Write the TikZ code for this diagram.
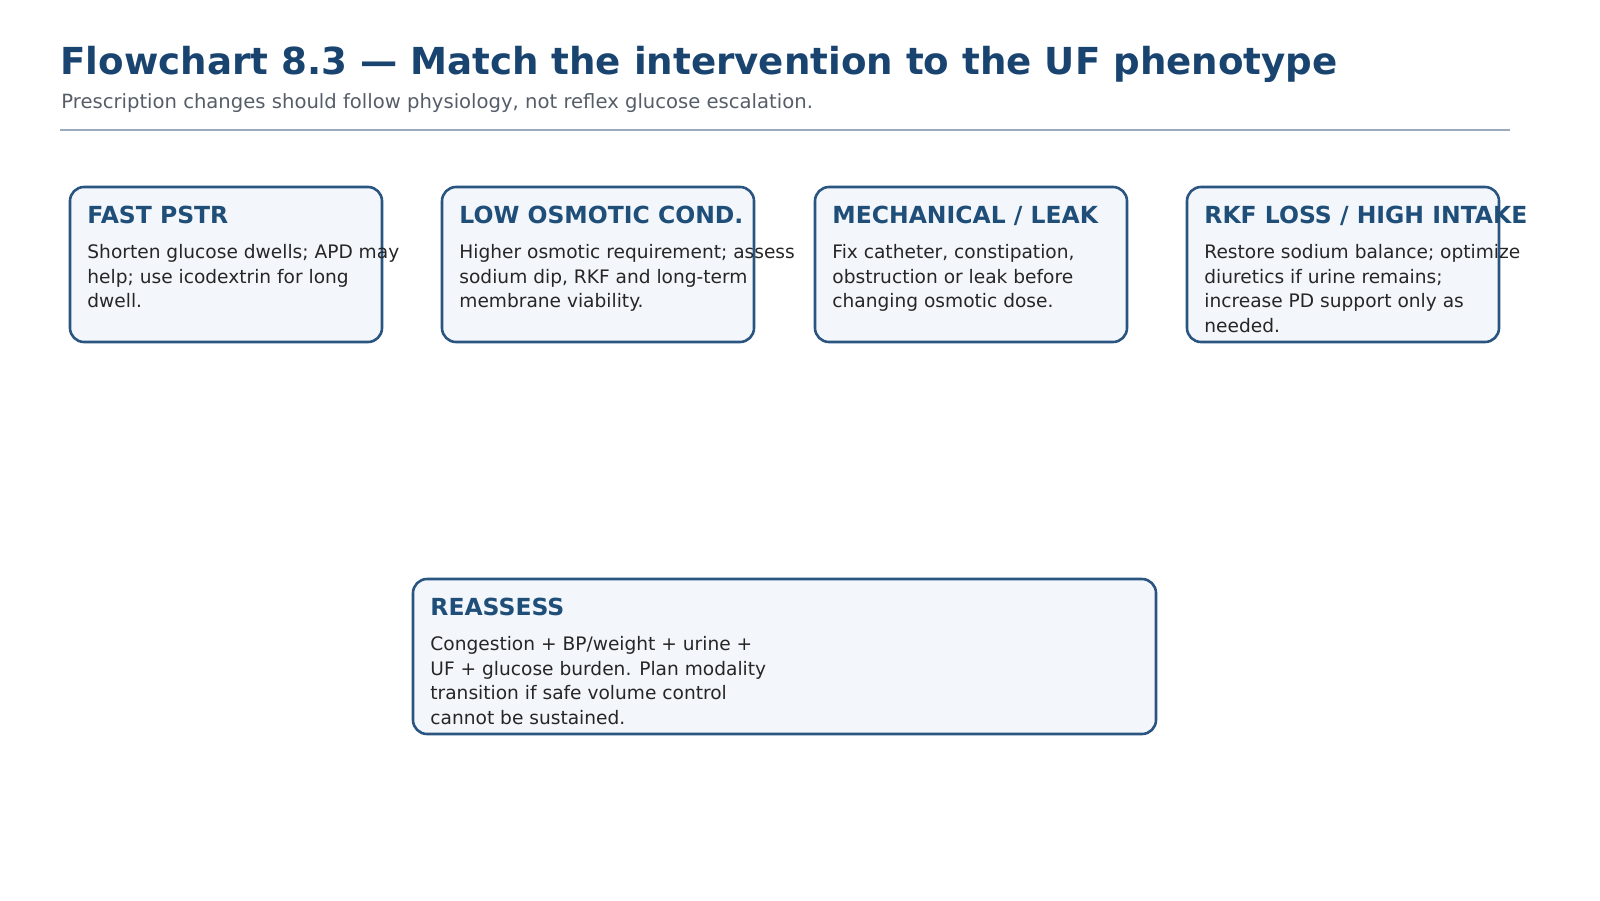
\documentclass[tikz,border=0pt]{standalone}
\usepackage{fontspec}
\setmainfont{DejaVu Sans}
\usetikzlibrary{positioning}
\definecolor{titleblue}{HTML}{1A4470}
\definecolor{boxline}{HTML}{2A5580}
\definecolor{boxfill}{HTML}{F3F7FB}
\definecolor{headblue}{HTML}{1F4E79}
\definecolor{subgray}{HTML}{555E68}
\definecolor{rulegray}{HTML}{9AABBD}
\tikzset{
  card/.style={draw=boxline, line width=1.3pt, fill=boxfill, rounded corners=7pt},
  head/.style={anchor=base west, inner sep=0pt, text=headblue, font=\fontsize{11.75}{14}\selectfont\bfseries},
  body/.style={anchor=north west, inner sep=0pt, align=left, text=black!85,
    font=\fontsize{9.3}{12.3}\selectfont},
}
\begin{document}
\begin{tikzpicture}[x=0.5pt,y=-0.5pt]
\useasboundingbox (0,0) rectangle (1600,900);

\node [anchor=base west, inner sep=0pt, text=titleblue, font=\fontsize{18.6}{22}\selectfont\bfseries]
  (title) at (60,74) {Flowchart 8.3 — Match the intervention to the UF phenotype};
\node [anchor=base west, inner sep=0pt, text=subgray, font=\fontsize{9.8}{12}\selectfont]
  (subtitle) at (61,108) {Prescription changes should follow physiology, not reflex glucose escalation.};
\draw [rulegray, line width=0.8pt] (60,130) -- (1510,130);

% phenotype cards
\draw [card] (70,187) rectangle (382,342);
\node [head] (fasthead) at (87,223) {FAST PSTR};
\node [body] (fastbody) at (87,244) {Shorten glucose dwells; APD may\\help; use icodextrin for long\\dwell.};

\draw [card] (442,187) rectangle (754,342);
\node [head] (lowhead) at (459,223) {LOW OSMOTIC COND.};
\node [body] (lowbody) at (459,244) {Higher osmotic requirement; assess\\sodium dip, RKF and long-term\\membrane viability.};

\draw [card] (815,187) rectangle (1127,342);
\node [head] (mechhead) at (832,223) {MECHANICAL / LEAK};
\node [body] (mechbody) at (832,244) {Fix catheter, constipation,\\obstruction or leak before\\changing osmotic dose.};

\draw [card] (1187,187) rectangle (1499,342);
\node [head] (rkfhead) at (1204,223) {RKF LOSS / HIGH INTAKE};
\node [body] (rkfbody) at (1204,244) {Restore sodium balance; optimize\\diuretics if urine remains;\\increase PD support only as\\needed.};

% reassess
\draw [card] (413,579) rectangle (1156,734);
\node [head] (reshead) at (430,615) {REASSESS};
\node [body] (resbody) at (430,636) {Congestion + BP/weight + urine +\\UF + glucose burden. Plan modality\\transition if safe volume control\\cannot be sustained.};
\end{tikzpicture}
\end{document}
